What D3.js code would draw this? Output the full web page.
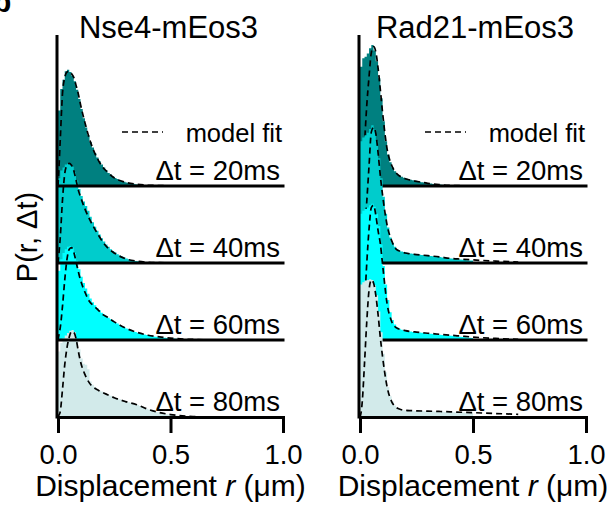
<!DOCTYPE html>
<html>
<head>
<meta charset="utf-8">
<script src="https://cdn.jsdelivr.net/npm/d3@7"></script>
<style>
  body { margin: 0; background: #fff; }
  svg { display: block; font-family: 'Liberation Sans', Arial, Helvetica, sans-serif; }
  text { white-space: pre; }
</style>
</head>
<body>
<div class="chart"></div>
<script>
// histogram bins are 0.01 um wide, starting at r = 0 (trailing bins are empty)
var binWidth = 0.01;
var xTicks = [0, 0.5, 1.0];
var panelTitles = ['Nse4-mEos3', 'Rad21-mEos3'];
var delayLabels = ['\u0394t = 20ms', '\u0394t = 40ms', '\u0394t = 60ms', '\u0394t = 80ms'];

// r values where the model fit is sampled
var fitR = [0, 0.005, 0.01, 0.02, 0.03, 0.04, 0.05, 0.06, 0.07, 0.08, 0.09, 0.10,
  0.12, 0.14, 0.16, 0.18, 0.20, 0.22, 0.25, 0.30, 0.35, 0.40, 0.45, 0.50, 0.60, 0.70];

// Nse4-mEos3 histograms P(r, dt)
var nse4Hist20 = [9.8, 12.6, 13.8, 14.9, 15.1, 14.8, 14.3, 13.6, 12.5, 11.3,
  10.0, 8.8, 7.6, 6.6, 5.7, 5.0, 4.3, 3.7, 3.2, 2.8,
  2.4, 2.0, 1.7, 1.5, 1.25, 1.05, 0.9, 0.78, 0.66, 0.56,
  0.47, 0.4, 0.34, 0.29, 0.24, 0.2, 0.17, 0.14, 0.12, 0.1,
  0.08, 0.06, 0.05, 0.04, 0.03, 0.02];
var nse4Hist40 = [11.0, 12.0, 12.4, 12.8, 13.0, 12.9, 12.5, 11.8, 10.7, 9.6,
  8.7, 8.0, 7.4, 6.8, 6.0, 5.3, 4.7, 4.2, 3.7, 3.2,
  2.8, 2.4, 2.1, 1.8, 1.55, 1.35, 1.15, 0.98, 0.83, 0.7,
  0.58, 0.48, 0.4, 0.33, 0.27, 0.22, 0.18, 0.14, 0.11, 0.09,
  0.07, 0.05, 0.04, 0.03, 0.02];
var nse4Hist60 = [9.0, 10.5, 11.3, 11.8, 12.1, 12.2, 12.0, 11.3, 10.3, 9.2,
  8.2, 7.4, 6.7, 6.0, 5.4, 4.9, 4.5, 4.15, 3.85, 3.55,
  3.3, 3.1, 2.9, 2.7, 2.5, 2.3, 2.15, 1.95, 1.8, 1.65,
  1.5, 1.38, 1.26, 1.15, 1.04, 0.94, 0.86, 0.78, 0.7, 0.64,
  0.58, 0.52, 0.47, 0.43, 0.39, 0.35, 0.31, 0.28, 0.25, 0.22,
  0.2, 0.18, 0.16, 0.14, 0.12, 0.1, 0.09, 0.08, 0.07, 0.06,
  0.05, 0.04, 0.03, 0.02];
var nse4Hist80 = [8.5, 9.6, 10.2, 10.6, 10.9, 11.2, 11.3, 11.0, 10.0, 8.8,
  7.6, 6.9, 6.8, 6.2, 4.6, 4.2, 3.9, 3.6, 3.45, 3.3,
  3.15, 3.0, 2.9, 2.75, 2.6, 2.5, 2.4, 2.3, 2.2, 2.1,
  2.0, 1.92, 1.84, 1.75, 1.65, 1.55, 1.42, 1.3, 1.18, 1.08,
  0.98, 0.88, 0.79, 0.7, 0.62, 0.55, 0.48, 0.42, 0.37, 0.32,
  0.28, 0.24, 0.2, 0.17, 0.14, 0.12, 0.1, 0.08, 0.06, 0.05,
  0.04, 0.03, 0.02];

// Nse4-mEos3 model fits (at fitR)
var nse4Fit20 = [0, 2.8, 6.0, 12.0, 14.1, 14.8, 14.9, 14.6, 14.1, 13.1, 12.0, 10.6,
  8.2, 6.1, 4.5, 3.3, 2.4, 1.8, 1.05, 0.48, 0.22, 0.1, 0.05, 0.02, 0, 0];
var nse4Fit40 = [0, 1.5, 3.3, 8.2, 11.6, 12.7, 12.95, 12.7, 12.0, 10.8, 9.5, 8.6,
  7.0, 5.7, 4.6, 3.6, 2.7, 2.0, 1.3, 0.55, 0.25, 0.1, 0.05, 0.02, 0, 0];
var nse4Fit60 = [0, 0.8, 1.6, 4.4, 7.8, 10.5, 11.8, 12.0, 11.4, 10.2, 8.9, 7.8,
  6.2, 5.0, 4.4, 3.85, 3.3, 2.95, 2.35, 1.55, 1.0, 0.62, 0.4, 0.24, 0.07, 0];
var nse4Fit80 = [0, 0.3, 0.7, 3.6, 6.8, 9.0, 10.4, 11.1, 11.0, 10.2, 8.6, 7.2,
  5.5, 4.4, 3.8, 3.45, 3.15, 2.9, 2.5, 2.0, 1.6, 1.0, 0.58, 0.32, 0.06, 0];

// Rad21-mEos3 histograms
var rad21Hist20 = [15.5, 16.6, 16.8, 17.2, 17.9, 18.3, 17.6, 16.2, 14.0, 11.4,
  8.4, 5.8, 4.1, 3.1, 2.4, 1.9, 1.55, 1.35, 1.2, 1.08,
  0.98, 0.9, 0.82, 0.75, 0.68, 0.62, 0.56, 0.5, 0.45, 0.4,
  0.35, 0.31, 0.27, 0.24, 0.21, 0.18, 0.15, 0.13, 0.11, 0.09,
  0.07, 0.05, 0.04, 0.03, 0.02];
var rad21Hist40 = [15.8, 16.3, 16.6, 16.9, 17.4, 17.9, 17.3, 15.8, 13.6, 11.0,
  8.6, 6.4, 4.6, 3.3, 2.6, 2.1, 1.8, 1.6, 1.5, 1.42,
  1.35, 1.3, 1.25, 1.2, 1.16, 1.12, 1.08, 1.04, 1.0, 0.97,
  0.94, 0.9, 0.87, 0.84, 0.8, 0.77, 0.73, 0.7, 0.66, 0.62,
  0.58, 0.55, 0.52, 0.49, 0.46, 0.43, 0.4, 0.37, 0.34, 0.31];
var rad21Hist60 = [16.4, 16.8, 17.0, 17.2, 17.5, 17.7, 17.3, 16.4, 14.8, 12.4,
  9.6, 7.2, 5.2, 3.6, 2.6, 2.0, 1.65, 1.45, 1.32, 1.24,
  1.18, 1.13, 1.09, 1.05, 1.02, 0.99, 0.96, 0.93, 0.9, 0.87,
  0.84, 0.81, 0.78, 0.75, 0.72, 0.69, 0.66, 0.63, 0.6, 0.57,
  0.54, 0.51, 0.48, 0.45, 0.42, 0.39, 0.36, 0.33, 0.3, 0.27];
var rad21Hist80 = [17.2, 17.5, 17.7, 17.8, 17.9, 17.8, 17.1, 15.8, 13.7, 11.0,
  8.2, 5.8, 3.9, 2.7, 2.0, 1.5, 1.2, 1.02, 0.93, 0.88,
  0.85, 0.84, 0.81, 0.82, 0.79, 0.8, 0.77, 0.78, 0.75, 0.76,
  0.74, 0.72, 0.73, 0.7, 0.71, 0.68, 0.69, 0.66, 0.67, 0.64,
  0.65, 0.62, 0.63, 0.6, 0.61, 0.58, 0.59, 0.56, 0.57, 0.55];

// Rad21-mEos3 model fits
var rad21Fit20 = [0, 0.6, 1.6, 5.6, 10.5, 14.2, 17.3, 18.1, 17.4, 15.3, 12.5, 9.5,
  4.8, 2.7, 1.7, 1.2, 0.95, 0.78, 0.6, 0.35, 0.18, 0.08, 0.03, 0, 0, 0];
var rad21Fit40 = [0, 0.4, 1.2, 3.8, 8.0, 12.6, 17.0, 17.6, 16.8, 14.3, 11.3, 8.8,
  4.9, 2.9, 1.8, 1.5, 1.3, 1.2, 1.1, 0.95, 0.8, 0.6, 0.5, 0.4, 0.25, 0.12];
var rad21Fit60 = [0, 0.3, 1.0, 4.6, 10.0, 14.4, 17.2, 17.5, 16.2, 14.2, 12.5, 9.8,
  4.7, 2.4, 1.6, 1.35, 1.22, 1.12, 1.02, 0.88, 0.75, 0.62, 0.5, 0.38, 0.2, 0.08];
var rad21Fit80 = [0, 0.6, 2.0, 7.0, 12.4, 16.5, 17.8, 17.4, 15.8, 13.3, 10.3, 7.8,
  3.9, 2.0, 1.25, 0.98, 0.88, 0.83, 0.8, 0.76, 0.72, 0.67, 0.62, 0.57, 0.45, 0.35];

// styles
var rowColors = ['#008080', '#00cccc', '#00ffff', '#d2eaea'];
var dash = '6,4';

var svgWidth = 614;
var svgHeight = 508;

var svg = d3
  .select('.chart')
  .append('svg')
  .attr('width', svgWidth)
  .attr('height', svgHeight);

var panels = [
  {title: panelTitles[0], range: [58, 283], hists: [nse4Hist20, nse4Hist40, nse4Hist60, nse4Hist80],
    fits: [nse4Fit20, nse4Fit40, nse4Fit60, nse4Fit80], stacked: false},
  {title: panelTitles[1], range: [360, 586], hists: [rad21Hist20, rad21Hist40, rad21Hist60, rad21Hist80],
    fits: [rad21Fit20, rad21Fit40, rad21Fit60, rad21Fit80], stacked: true}
];

// baselines of the four rows
var rowY = d3.scaleLinear().domain([0, 3]).range([186, 417]);
var rowHeight = 77;

function histPoints(values) {
  var pts = values.map(function(v, i) { return [i * binWidth, v]; });
  pts.push([values.length * binWidth, 0]);
  return pts;
}

panels.forEach(function(p, pi) {
  var x = d3.scaleLinear().domain([0, 1]).range(p.range);
  var g = svg.append('g');

  var rows = delayLabels.map(function(label, i) {
    var base = rowY(i);
    return {
      label: label,
      base: base,
      y: d3.scaleLinear().domain([0, 10]).range([base, base - rowHeight]),
      hist: p.hists[i],
      fit: p.fits[i],
      color: rowColors[i],
      last: i === delayLabels.length - 1
    };
  });

  function drawFill(r) {
    var area = d3.area()
      .curve(d3.curveStepAfter)
      .x(function(d) { return x(d[0]); })
      .y0(r.base)
      .y1(function(d) { return r.y(d[1]); });
    g.append('path')
      .datum(histPoints(r.hist))
      .attr('d', area)
      .attr('fill', r.color);
  }

  function drawFit(r) {
    var line = d3.line()
      .curve(d3.curveMonotoneX)
      .x(function(d, i) { return x(fitR[i]); })
      .y(function(d) { return r.y(d); });
    g.append('path')
      .datum(r.fit)
      .attr('d', line)
      .attr('fill', 'none')
      .attr('stroke', '#000')
      .attr('stroke-width', 1.7)
      .attr('stroke-dasharray', dash);
  }

  function drawBase(r) {
    if (r.last) return; // bottom row uses the x axis
    g.append('line')
      .attr('x1', x(0) - 1)
      .attr('x2', x(1) + 1.5)
      .attr('y1', r.base)
      .attr('y2', r.base)
      .attr('stroke', '#000')
      .attr('stroke-width', 3);
  }

  if (p.stacked) {
    rows.forEach(function(r) { drawFill(r); drawFit(r); drawBase(r); });
  } else {
    rows.forEach(drawFill);
    rows.forEach(drawFit);
    rows.forEach(drawBase);
  }

  // delay labels
  rows.forEach(function(r) {
    g.append('text')
      .attr('x', x(1) - 3)
      .attr('y', r.base - 6)
      .attr('text-anchor', 'end')
      .attr('font-size', 27.5)
      .text(r.label);
  });

  // legend
  g.append('line')
    .attr('x1', x(1) - 161)
    .attr('x2', x(1) - 120)
    .attr('y1', 132)
    .attr('y2', 132)
    .attr('stroke', '#000')
    .attr('stroke-width', 1.7)
    .attr('stroke-dasharray', dash);
  g.append('text')
    .attr('x', x(1) - 1)
    .attr('y', 142)
    .attr('text-anchor', 'end')
    .attr('font-size', 25.5)
    .text('model fit');

  // x axis
  var bottomAxis = d3.axisBottom(x)
    .tickValues(xTicks)
    .tickFormat(d3.format('.1f'))
    .tickSizeInner(16)
    .tickSizeOuter(0)
    .tickPadding(11);
  var ax = g.append('g')
    .attr('transform', 'translate(0,' + rowY(3) + ')')
    .call(bottomAxis)
    .attr('font-size', 27.5)
    .attr('font-family', null);
  ax.select('.domain').attr('stroke-width', 3).attr('stroke-linecap', 'square');
  ax.selectAll('.tick line').attr('stroke-width', 3);
  ax.selectAll('.tick text').attr('fill', '#000');

  // y axis (no ticks)
  g.append('line')
    .attr('x1', x(0) - 1)
    .attr('x2', x(0) - 1)
    .attr('y1', 35)
    .attr('y2', rowY(3) + 1.5)
    .attr('stroke', '#000')
    .attr('stroke-width', 3);

  // panel title
  g.append('text')
    .attr('x', x(0.5) + (pi === 0 ? -2 : 2))
    .attr('y', 38)
    .attr('text-anchor', 'middle')
    .attr('font-size', 31)
    .text(p.title);

  // x axis title
  var xt = g.append('text')
    .attr('x', x(0.5))
    .attr('y', 496)
    .attr('text-anchor', 'middle')
    .attr('font-size', 30);
  xt.append('tspan').text('Displacement ');
  xt.append('tspan').attr('font-style', 'italic').text('r');
  xt.append('tspan').text(' (\u03bcm)');

  if (pi === 0) {
    g.append('text')
      .attr('transform', 'translate(37,237) rotate(-90)')
      .attr('text-anchor', 'middle')
      .attr('font-size', 29)
      .text('P(r, \u0394t)');
  }
});

// panel letter, cut off at the top-left corner as in the source figure
svg.append('text')
  .attr('x', -7)
  .attr('y', 12)
  .attr('font-size', 30)
  .attr('font-weight', 'bold')
  .text('b');
</script>
</body>
</html>
